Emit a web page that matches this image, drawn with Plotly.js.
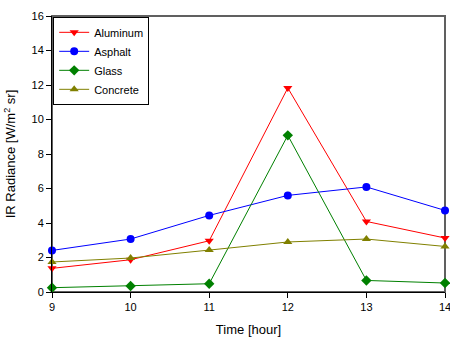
<!DOCTYPE html>
<html><head><meta charset="utf-8">
<script src="https://cdn.plot.ly/plotly-3.0.1.min.js"></script>
<style>body{margin:0;background:#fff}#c{width:450px;height:341px}</style>
</head><body><div id="c"></div>
<script>
const hours = [9, 10, 11, 12, 13, 14];
const aluminum = [1.37, 1.87, 2.97, 11.83, 4.09, 3.13];
const asphalt = [2.41, 3.07, 4.44, 5.6, 6.09, 4.73];
const glass = [0.25, 0.35, 0.48, 9.08, 0.67, 0.52];
const concrete = [1.74, 1.97, 2.43, 2.9, 3.07, 2.64];
const names = ['Aluminum', 'Asphalt', 'Glass', 'Concrete'];
const colors = ['#ff0000', '#0000ff', '#008000', '#808000'];
const symbols = ['triangle-down', 'circle', 'diamond', 'triangle-up'];
const series = [aluminum, asphalt, glass, concrete];
const traces = series.map((s, i) => ({
  x: hours, y: s, name: names[i], type: 'scatter', mode: 'lines+markers',
  line: {color: colors[i], width: 1},
  marker: {color: colors[i], symbol: symbols[i], size: 8},
  cliponaxis: false
}));
const layout = {
  width: 450, height: 341,
  margin: {l: 52, r: 5, t: 16, b: 49},
  paper_bgcolor: '#fff', plot_bgcolor: '#fff',
  font: {family: 'Liberation Sans, Arial, sans-serif', size: 11, color: '#000'},
  showlegend: true,
  legend: {x: 0.003, y: 0.997, xanchor: 'left', yanchor: 'top', bordercolor: '#000', borderwidth: 1,
    bgcolor: '#fff', font: {size: 11}, tracegroupgap: 0, itemwidth: 30},
  xaxis: {range: [9, 14], tickvals: hours, ticks: 'outside', ticklen: 5, tickcolor: '#000',
    ticklabeloverflow: 'allow',
    showline: true, linecolor: '#000', linewidth: 1, showgrid: false, zeroline: false,
    title: {text: 'Time [hour]', font: {size: 13}, standoff: 12}},
  yaxis: {range: [0, 16], dtick: 2, ticks: 'outside', ticklen: 5, tickcolor: '#000',
    ticklabeloverflow: 'allow',
    showline: true, linecolor: '#000', linewidth: 1, showgrid: false, zeroline: false,
    title: {text: 'IR Radiance [W/m<sup>2</sup> sr]', font: {size: 13}, standoff: 12}},
  shapes: [
    {type: 'rect', xref: 'paper', yref: 'paper', x0: 0, x1: 1, y0: 0, y1: 1,
     line: {color: '#606060', width: 2}, layer: 'below'}
  ]
};
Plotly.newPlot('c', traces, layout, {displayModeBar: false, staticPlot: true});
</script></body></html>
